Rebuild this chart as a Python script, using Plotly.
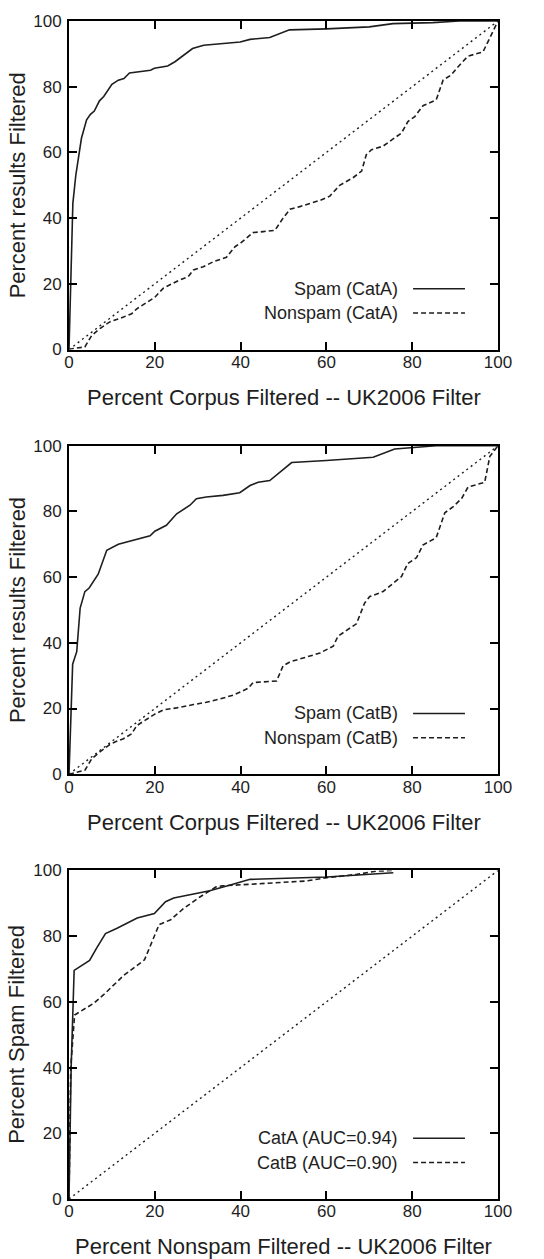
import plotly.graph_objects as go

# ---- Panel 1: CatA, fraction of results filtered vs. fraction of corpus filtered
corpus_spam_a = [0, 0.9, 1.6, 2.9, 4.1, 5.0, 5.9, 7.1, 8.1, 10.0, 11.5, 12.8, 14.1, 19.0, 19.9,
                 23.0, 24.7, 28.8, 31.4, 36.2, 39.9, 42.2, 46.8, 51.4, 60.0, 70.0, 75.5, 84.8, 91.0, 100]
spam_a = [0, 44.5, 53.2, 64.3, 69.9, 71.6, 72.6, 75.7, 77.0, 80.7, 82.0, 82.5, 84.2, 85.0, 85.6,
          86.3, 87.6, 91.6, 92.6, 93.1, 93.6, 94.4, 95.0, 97.3, 97.6, 98.2, 99.2, 99.5, 100, 100]

corpus_nonspam_a = [0, 1.0, 3.7, 5.3, 7.2, 9.5, 12.7, 14.6, 15.8, 18.1, 20.0, 22.0, 25.5, 27.8, 29.0,
                    31.3, 33.6, 36.7, 38.7, 40.2, 42.9, 45.3, 48.0, 49.9, 51.5, 53.8, 58.5, 60.8,
                    63.1, 66.2, 68.2, 69.3, 70.5, 73.2, 75.5, 77.5, 79.0, 80.6, 82.5, 85.6, 87.2,
                    89.1, 90.7, 93.0, 96.5, 98.8, 100]
nonspam_a = [0, 0.3, 0.8, 4.3, 6.4, 8.4, 9.9, 10.9, 12.4, 14.4, 15.9, 18.7, 21.0, 22.2, 24.2,
             25.2, 26.7, 28.1, 31.3, 32.6, 35.6, 35.9, 36.3, 40.0, 42.7, 43.5, 45.4, 46.7,
             50.0, 52.3, 54.3, 59.3, 60.8, 61.9, 63.9, 65.9, 69.4, 70.9, 74.2, 76.0, 82.0,
             83.6, 86.1, 89.3, 90.6, 96.7, 100]

# ---- Panel 2: CatB
corpus_spam_b = [0, 0.85, 1.8, 2.6, 3.7, 4.7, 6.8, 8.8, 11.5, 15.8, 18.9, 20.0, 22.7, 25.1, 28.2,
                 29.7, 32.0, 35.9, 39.8, 42.2, 44.1, 46.8, 49.9, 51.9, 60.0, 70.9, 75.9, 80.2, 85.6, 100]
spam_b = [0, 33.5, 37.3, 50.6, 55.6, 56.7, 60.9, 68.2, 70.0, 71.5, 72.6, 74.0, 75.8, 79.3, 81.9,
          83.9, 84.4, 84.9, 85.7, 87.9, 88.9, 89.4, 92.9, 94.9, 95.5, 96.5, 99.0, 99.5, 100, 100]

corpus_nonspam_b = [0, 2.2, 3.7, 5.3, 7.2, 9.5, 10.7, 12.7, 14.6, 15.8, 18.1, 20.0, 22.0, 25.1, 29.0,
                    32.0, 35.2, 38.3, 40.2, 41.8, 42.9, 45.7, 48.4, 49.9, 51.5, 55.4, 58.5, 61.6,
                    62.7, 64.7, 67.0, 68.9, 70.1, 73.2, 75.5, 77.5, 79.0, 81.0, 82.5, 85.6, 87.6,
                    89.5, 91.5, 93.0, 96.9, 98.1, 100]
nonspam_b = [0, 0.7, 1.2, 4.7, 6.8, 9.0, 9.8, 10.8, 12.3, 14.8, 16.8, 18.3, 19.6, 20.2, 21.2,
             21.9, 22.9, 24.1, 25.2, 26.2, 27.9, 28.1, 28.4, 33.0, 34.2, 35.7, 36.9, 39.0,
             42.0, 43.8, 45.8, 52.1, 54.1, 55.6, 58.2, 60.2, 64.2, 65.9, 69.8, 72.0, 79.6,
             81.4, 83.9, 87.4, 88.9, 96.8, 100]

# ---- Panel 3: ROC curves
fpr_a = [0, 0.5, 1.2, 4.8, 6.5, 8.5, 11.2, 15.9, 19.9, 22.5, 24.4, 27.5, 32.8, 37.6, 42.2, 60.1, 75.6]
tpr_a = [0, 40.0, 69.6, 72.6, 76.5, 80.8, 82.4, 85.5, 86.9, 90.5, 91.6, 92.4, 93.8, 95.6, 97.3, 98.0, 99.3]

fpr_b = [0, 0.4, 1.3, 5.8, 8.0, 12.8, 17.6, 19.0, 21.0, 23.7, 26.7, 30.6, 34.3, 35.7, 42.2, 50.0,
         55.4, 60.1, 67.1, 71.7, 75.6]
tpr_b = [0, 40.0, 56.0, 59.6, 62.1, 68.1, 72.8, 77.1, 83.5, 85.0, 88.4, 92.0, 95.0, 95.3, 95.8, 96.3,
         96.8, 97.8, 98.8, 99.8, 100]

diag = [0, 100]

x_ticks = [0, 20, 40, 60, 80, 100]
y_ticks = [0, 20, 40, 60, 80, 100]

panel_names = [("Spam (CatA)", "Nonspam (CatA)"),
               ("Spam (CatB)", "Nonspam (CatB)"),
               ("CatA (AUC=0.94)", "CatB (AUC=0.90)")]
x_titles = ["Percent Corpus Filtered -- UK2006 Filter",
            "Percent Corpus Filtered -- UK2006 Filter",
            "Percent Nonspam Filtered -- UK2006 Filter"]
y_titles = ["Percent results Filtered", "Percent results Filtered", "Percent Spam Filtered"]

panel_series = [
    ((corpus_spam_a, spam_a), (corpus_nonspam_a, nonspam_a)),
    ((corpus_spam_b, spam_b), (corpus_nonspam_b, nonspam_b)),
    ((fpr_a, tpr_a), (fpr_b, tpr_b)),
]

FONT = "Liberation Sans, Arial, Helvetica, sans-serif"
INK = "#1e1e1e"
DASH = "5px,3px"
DOT = "2px,3.5px"

W, H = 544, 1259
ML, MR, MT, MB = 69, 46, 12, 60
plot_h = H - MT - MB
# panel pixel extents (top, bottom)
panel_px = [(12, 343), (440, 771), (868, 1199)]
domains = [[(H - MB - b) / plot_h, (H - MB - t) / plot_h] for t, b in panel_px]
domains = [[max(0, round(d0, 4)), min(1, round(d1, 4))] for d0, d1 in domains]

fig = go.Figure()
annotations = []
shapes = []

for i in range(3):
    xa = "x" if i == 0 else f"x{i + 1}"
    ya = "y" if i == 0 else f"y{i + 1}"
    (sx, sy), (nx, ny) = panel_series[i]
    fig.add_trace(go.Scatter(x=diag, y=diag, mode="lines", xaxis=xa, yaxis=ya,
                             line=dict(color=INK, width=1.4, dash=DOT), showlegend=False))
    fig.add_trace(go.Scatter(x=sx, y=sy, mode="lines", xaxis=xa, yaxis=ya,
                             line=dict(color=INK, width=1.6), showlegend=False))
    fig.add_trace(go.Scatter(x=nx, y=ny, mode="lines", xaxis=xa, yaxis=ya,
                             line=dict(color=INK, width=1.6, dash=DASH), showlegend=False))

    axis_common = dict(range=[0, 100], showgrid=False, zeroline=False, showline=True,
                       linecolor="black", linewidth=2, mirror="ticks", ticks="inside",
                       ticklen=8, tickwidth=1.5, tickcolor="black",
                       tickfont=dict(family=FONT, size=17, color=INK))
    xkey = "xaxis" if i == 0 else f"xaxis{i + 1}"
    ykey = "yaxis" if i == 0 else f"yaxis{i + 1}"
    fig.update_layout(**{
        xkey: dict(axis_common, domain=[0, 1], anchor=ya, tickvals=x_ticks,
                   ticklabelstandoff=-4),
        ykey: dict(axis_common, domain=domains[i], anchor=xa, tickvals=y_ticks,
                   ticklabelstandoff=2),
    })

    xd = f"{xa} domain"
    yd = f"{ya} domain"
    # axis titles
    annotations.append(dict(text=x_titles[i], xref=xd, yref=yd, x=0.5, y=-0.146,
                            xanchor="center", yanchor="middle", showarrow=False,
                            font=dict(family=FONT, size=22, color=INK)))
    annotations.append(dict(text=y_titles[i], xref="paper", yref=yd, x=-0.121, y=0.5,
                            xanchor="center", yanchor="middle", textangle=-90, showarrow=False,
                            font=dict(family=FONT, size=22, color=INK)))
    # key: label on the left, line sample on the right
    for name, yk, dash in ((panel_names[i][0], 0.185, None), (panel_names[i][1], 0.111, DASH)):
        annotations.append(dict(text=name, xref=xd, yref=yd, x=0.7716, y=yk,
                                xanchor="right", yanchor="middle", showarrow=False,
                                font=dict(family=FONT, size=18, color=INK)))
        line = dict(color=INK, width=1.5)
        if dash:
            line["dash"] = DASH
        shapes.append(dict(type="line", xref=xd, yref=yd, x0=0.802, x1=0.923, y0=yk, y1=yk,
                           line=line))

fig.update_layout(width=W, height=H, margin=dict(l=ML, r=MR, t=MT, b=MB),
                  paper_bgcolor="white", plot_bgcolor="white", showlegend=False,
                  annotations=annotations, shapes=shapes)

fig.write_html("out.html")
